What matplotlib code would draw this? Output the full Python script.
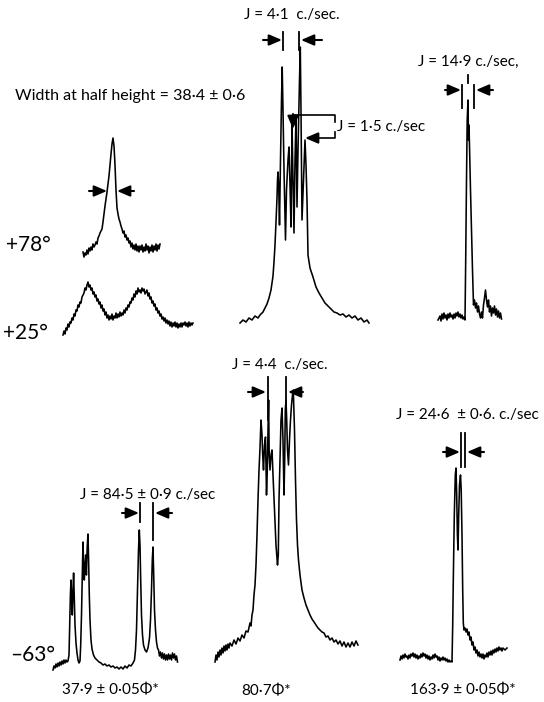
import numpy as np
import matplotlib
matplotlib.use("Agg")
import matplotlib.pyplot as plt

W, H = 544, 702
plt.rcParams['font.family'] = ['Lato', 'DejaVu Sans']

# traced recorder output, (chart position, pen deflection above baseline)
trace_p78 = [(3, 8), (4, 3), (5, 7), (6, 5), (7, 10), (8, 6), (9, 12), (10, 9), (11, 13), (12, 10),
             (13, 16), (14, 13), (15, 15), (16, 18), (17, 16), (18, 22), (19, 24), (20, 27), (21, 29),
             (22, 31), (23, 38), (24, 46), (25, 54), (26, 61), (27, 68), (28, 76), (29, 84), (30, 95),
             (31, 106), (32, 116), (33, 122), (34, 114), (35, 95), (36, 70), (37, 52), (38, 46), (39, 41),
             (40, 38), (41, 34), (42, 31), (43, 27), (44, 29), (45, 23), (46, 25), (47, 20), (48, 22),
             (49, 17), (50, 19), (51, 13), (52, 17), (53, 11), (54, 15), (55, 10), (56, 16), (57, 9),
             (58, 14), (59, 8), (60, 14), (61, 10), (62, 15), (63, 8), (64, 13), (65, 9), (66, 16),
             (67, 10), (68, 14), (69, 7), (70, 13), (71, 9), (72, 15), (73, 8), (74, 14), (75, 10),
             (76, 16), (77, 9), (78, 15), (79, 11), (80, 16)]

trace_p25 = [(3, 5), (4, 9), (5, 6), (6, 12), (7, 10), (8, 16), (9, 13), (10, 18), (11, 17), (12, 22),
             (13, 20), (14, 26), (15, 24), (16, 30), (17, 29), (18, 35), (19, 33), (20, 38), (21, 37),
             (22, 43), (23, 45), (24, 47), (25, 52), (26, 50), (27, 55), (28, 58), (29, 53), (30, 55),
             (31, 50), (32, 52), (33, 46), (34, 48), (35, 43), (36, 45), (37, 39), (38, 41), (39, 36),
             (40, 38), (41, 32), (42, 35), (43, 29), (44, 31), (45, 25), (46, 28), (47, 22), (48, 25),
             (49, 20), (50, 24), (51, 21), (52, 26), (53, 20), (54, 24), (55, 22), (56, 27), (57, 22),
             (58, 26), (59, 23), (60, 28), (61, 24), (62, 27), (63, 25), (64, 30), (65, 27), (66, 32),
             (67, 30), (68, 35), (69, 33), (70, 38), (71, 37), (72, 42), (73, 40), (74, 46), (75, 43),
             (76, 49), (77, 46), (78, 52), (79, 48), (80, 50), (81, 47), (82, 52), (83, 49), (84, 51),
             (85, 46), (86, 48), (87, 50), (88, 44), (89, 47), (90, 41), (91, 43), (92, 37), (93, 39),
             (94, 34), (95, 36), (96, 30), (97, 32), (98, 27), (99, 29), (100, 24), (101, 26), (102, 21),
             (103, 23), (104, 19), (105, 22), (106, 17), (107, 20), (108, 16), (109, 19), (110, 14),
             (111, 18), (112, 13), (113, 17), (114, 14), (115, 18), (116, 13), (117, 17), (118, 12),
             (119, 16), (120, 13), (121, 17), (122, 13), (123, 17), (124, 15), (125, 18), (126, 14),
             (127, 17), (128, 13), (129, 18), (130, 14), (131, 17), (132, 15), (133, 17)]

trace_80_top = [(5, 7), (8, 10), (11, 8), (14, 12), (17, 10), (20, 14), (23, 12), (25, 15), (28, 18),
                (30, 22), (32, 26), (34, 32), (36, 40), (38, 54), (39, 68), (40, 85), (41, 108), (42, 132),
                (42.5, 150), (43, 158), (43.7, 145), (44.5, 105), (45.5, 170), (46.5, 230), (47.2, 263),
                (48, 220), (49, 160), (50.5, 90), (51.5, 140), (53, 170), (54, 183), (55, 145), (56, 103),
                (57, 207), (58, 150), (59, 97), (60, 170), (61, 213), (62, 123), (63, 180), (64.5, 250),
                (65.3, 283), (66, 220), (67, 110), (68.5, 150), (70, 190), (71, 165), (72, 130), (73, 75),
                (75, 62), (78, 53), (81, 43), (84, 37), (87, 32), (90, 27), (93, 24), (96, 21), (99, 18),
                (102, 17), (105, 15), (108, 16), (111, 13), (114, 15), (117, 12), (120, 14), (123, 10),
                (126, 12), (129, 8), (132, 10), (134, 7)]

trace_164_top = [(3, 5), (5, 9), (6, 4), (7, 11), (8, 6), (9, 12), (10, 7), (11, 10), (12, 5), (13, 11),
                 (14, 7), (15, 12), (16, 8), (17, 10), (18, 6), (19, 11), (20, 7), (21, 12), (22, 9),
                 (23, 13), (24, 8), (25, 11), (26, 7), (27, 10), (28, 6), (29, 8), (30, 5), (30.7, 65),
                 (31.5, 145), (32.2, 205), (33, 225), (33.5, 185), (34, 200), (34.6, 175), (35.5, 135),
                 (36.5, 95), (37.5, 55), (38.5, 20), (39.5, 25), (40.5, 17), (41.5, 22), (42.5, 13),
                 (43.5, 19), (44.5, 11), (45.5, 7), (46.5, 13), (47.5, 7), (48.5, 20), (49.5, 27),
                 (50.5, 35), (51.5, 25), (52.5, 18), (53.5, 25), (54.5, 13), (55.5, 19), (56.5, 9),
                 (57.5, 17), (58.5, 12), (59.5, 19), (60.5, 10), (61.5, 16), (62.5, 8), (63.5, 14),
                 (64.5, 7), (65.5, 12), (66.5, 6)]

trace_38_m63 = [(3, 5), (4, 9), (5, 7), (6, 11), (7, 8), (8, 12), (9, 9), (10, 13), (11, 10), (12, 14),
                (13, 11), (14, 15), (15, 12), (16, 15), (17, 13), (18, 14), (19, 20), (19.7, 50), (20.4, 80),
                (21, 95), (21.6, 78), (22.3, 60), (23, 85), (23.6, 102), (24.2, 80), (25, 50), (26, 32),
                (27, 22), (28, 15), (29, 12), (30, 14), (30.7, 30), (31.5, 60), (32.3, 100), (33, 133),
                (33.6, 110), (34.3, 95), (35, 110), (35.7, 120), (36.4, 100), (37.2, 128), (38, 141),
                (38.6, 115), (39.3, 80), (40, 55), (41, 35), (42, 26), (43.5, 20), (45, 17), (47, 15),
                (49, 13), (51, 12), (53, 10), (55, 11), (57, 9), (59, 10), (61, 8), (63, 9), (65, 7),
                (67, 8), (69, 6), (71, 8), (73, 6), (75, 9), (77, 7), (79, 10), (81, 9), (83, 12),
                (84.5, 15), (85.5, 25), (86.5, 45), (87.5, 85), (88.5, 125), (89.3, 145), (90, 130),
                (90.7, 95), (91.5, 60), (92.5, 40), (93.5, 30), (95, 25), (96.5, 23), (98, 27), (99.5, 37),
                (100.5, 55), (101.5, 85), (102.3, 115), (103, 128), (103.7, 100), (104.5, 65), (105.5, 45),
                (106.5, 33), (107.5, 27), (108.5, 25), (109.5, 19), (110.5, 23), (111.5, 17), (112.5, 22),
                (113.5, 16), (114.5, 21), (115.5, 15), (116.5, 20), (117.5, 15), (118.5, 21), (119.5, 16),
                (120.5, 20), (121.5, 15), (122.5, 22), (123.5, 17), (124.5, 21), (125.5, 15), (126.5, 19),
                (127.5, 13)]

trace_80_m63 = [(5, 8), (6, 15), (7, 10), (8, 18), (9, 13), (10, 20), (11, 15), (12, 22), (13, 17),
                (14, 24), (15, 19), (16, 25), (17, 20), (18, 26), (19, 22), (20, 27), (22, 24), (24, 30),
                (26, 26), (28, 32), (30, 29), (32, 35), (34, 32), (36, 39), (38, 38), (40, 47), (41, 44),
                (42, 55), (43, 60), (44, 75), (45, 85), (46, 105), (47, 135), (48, 170), (49, 200),
                (50, 222), (51, 250), (52, 235), (52.7, 215), (53.5, 200), (54.5, 225), (55.5, 233),
                (56.5, 175), (57.3, 200), (58, 240), (58.6, 270), (59.2, 215), (60, 200), (61, 215),
                (62, 220), (63, 195), (64.5, 160), (66, 125), (67.5, 105), (68.3, 115), (69, 170),
                (70, 210), (71, 250), (72, 262), (73, 230), (74, 175), (74.7, 210), (75.3, 260), (76, 270),
                (76.7, 250), (77.5, 220), (78.5, 205), (79.5, 230), (80.5, 250), (81.5, 265), (82.5, 275),
                (83.3, 280), (84.5, 240), (85.5, 190), (86.5, 150), (87.5, 125), (88.5, 110), (90, 95),
                (92, 80), (94, 72), (96, 65), (98, 60), (100, 55), (102, 51), (104, 48), (106, 45),
                (108, 42), (110, 40), (112, 38), (114, 37), (116, 33), (118, 34), (120, 30), (122, 32),
                (124, 28), (126, 30), (128, 26), (130, 29), (132, 24), (134, 28), (136, 23), (138, 27),
                (140, 23), (142, 28), (144, 24), (146, 29), (148, 25)]

trace_164_m63 = [(5, 5), (6, 9), (7, 6), (8, 10), (9, 7), (10, 11), (11, 8), (12, 9), (13, 6), (14, 10),
                 (15, 7), (16, 11), (17, 9), (18, 12), (19, 8), (20, 11), (21, 7), (22, 10), (23, 6),
                 (24, 9), (25, 7), (26, 11), (27, 8), (28, 12), (29, 9), (30, 11), (31, 7), (32, 10),
                 (33, 6), (34, 9), (35, 5), (36, 8), (37, 6), (38, 10), (39, 7), (40, 11), (41, 8), (42, 9),
                 (43, 5), (44, 8), (45, 4), (46, 7), (47, 5), (48, 8), (49, 5), (50, 7), (51, 4), (52, 6),
                 (53, 3), (54, 5), (55, 3), (56, 4), (57, 3), (57.7, 40), (58.3, 85), (59.3, 150),
                 (60.3, 190), (61, 197), (61.7, 170), (62.4, 130), (63, 115), (63.7, 150), (64.5, 180),
                 (65.5, 190), (66.2, 175), (67, 130), (67.7, 75), (68.3, 42), (69, 35), (70, 37), (71, 33),
                 (72, 36), (73, 30), (74, 33), (75, 25), (76, 28), (77, 20), (78, 23), (79, 15), (80, 18),
                 (81, 12), (82, 15), (83, 9), (84, 13), (85, 8), (86, 11), (87, 7), (88, 11), (89, 6),
                 (90, 10), (91, 8), (92, 12), (93, 8), (94, 13), (95, 10), (96, 14), (97, 10), (98, 15),
                 (99, 12), (100, 16), (101, 13), (102, 17), (103, 14), (104, 18), (105, 15), (106, 17),
                 (107, 14), (108, 17), (110, 15), (112, 17)]

temperatures = ['+78°', '+25°', '–63°']
shifts = ['37·9 ± 0·05Φ*', '80·7Φ*', '163·9 ± 0·05Φ*']
couplings = ['J = 4·1  c./sec.', 'J = 1·5 c./sec', 'J = 14·9 c./sec,',
             'J = 84·5 ± 0·9 c./sec', 'J = 4·4  c./sec.', 'J = 24·6  ± 0·6. c./sec']
half_width = 'Width at half height = 38·4 ± 0·6'

fig = plt.figure(figsize=(W / 100, H / 100), dpi=100)


def panel(x0, base, w, h):
    ax = fig.add_axes([x0 / W, 1 - base / H, w / W, h / H])
    ax.set_xlim(0, w)
    ax.set_ylim(0, h)
    ax.axis('off')
    return ax


def draw(ax, pts):
    x, y = np.array(pts, dtype=float).T
    ax.plot(x, y, color='black', lw=1.15, clip_on=False)


draw(panel(80, 260, 85, 130), trace_p78)
draw(panel(60, 340, 140, 70), trace_p25)
draw(panel(235, 330, 140, 300), trace_80_top)
draw(panel(435, 325, 70, 240), trace_164_top)
draw(panel(50, 675, 130, 160), trace_38_m63)
draw(panel(210, 670, 150, 300), trace_80_m63)
draw(panel(395, 665, 115, 210), trace_164_m63)

# overlay for labels and arrows, in picture pixels
ann = fig.add_axes([0, 0, 1, 1], zorder=5)
ann.set_xlim(0, W)
ann.set_ylim(H, 0)
ann.axis('off')
ann.patch.set_alpha(0)


def arrow(tail, tip):
    ann.annotate('', xy=tip, xytext=tail,
                 arrowprops=dict(arrowstyle='-|>,head_length=0.7,head_width=0.3', color='k',
                                 lw=1.5, shrinkA=0, shrinkB=0, mutation_scale=11))


def tick(x, y0, y1):
    ann.plot([x, x], [y0, y1], color='k', lw=1.3)


def label(x, y, s, size=11, ha='center'):
    ann.text(x, y, s, fontsize=size, ha=ha, va='center', color='k')


# left column
label(15, 96, half_width, 11.5, 'left')
arrow((89, 191), (107, 191))
arrow((134, 191), (117, 191))
label(6, 245, temperatures[0], 15, 'left')
label(3, 333, temperatures[1], 15, 'left')
label(10, 655, temperatures[2], 15, 'left')

# top middle
label(292, 15, couplings[0], 11)
arrow((263, 40), (282, 40))
arrow((322, 40), (301, 40))
tick(283, 32, 50)
tick(299, 32, 50)
ann.plot([335, 335, 293], [122, 115, 115], color='k', lw=1.2)
arrow((293, 114), (293, 129))
ann.plot([335, 335, 315], [132, 138, 138], color='k', lw=1.2)
arrow((316, 138), (305, 138))
label(337, 127, couplings[1], 11, 'left')

# top right
label(468, 62, couplings[2], 11)
tick(468, 75, 83)
arrow((445, 90), (461, 90))
arrow((493, 90), (476, 90))
tick(462, 85, 108)
tick(474, 85, 108)

# bottom left
label(80, 495, couplings[3], 11, 'left')
arrow((122, 513), (139, 513))
arrow((172, 513), (155, 513))
tick(140, 503, 522)
tick(153, 503, 540)
label(110, 690, shifts[0], 11)

# bottom middle
label(280, 365, couplings[4], 11)
arrow((248, 392), (266, 392))
arrow((303, 392), (288, 392))
tick(268, 377, 420)
tick(286, 377, 410)
label(266, 691, shifts[1], 11)

# bottom right
label(467, 415, couplings[5], 11)
arrow((443, 452), (460, 452))
arrow((484, 452), (467, 452))
tick(461, 433, 467)
tick(465, 433, 467)
label(463, 690, shifts[2], 11)

fig.savefig('out.png', dpi=100, facecolor='white')
